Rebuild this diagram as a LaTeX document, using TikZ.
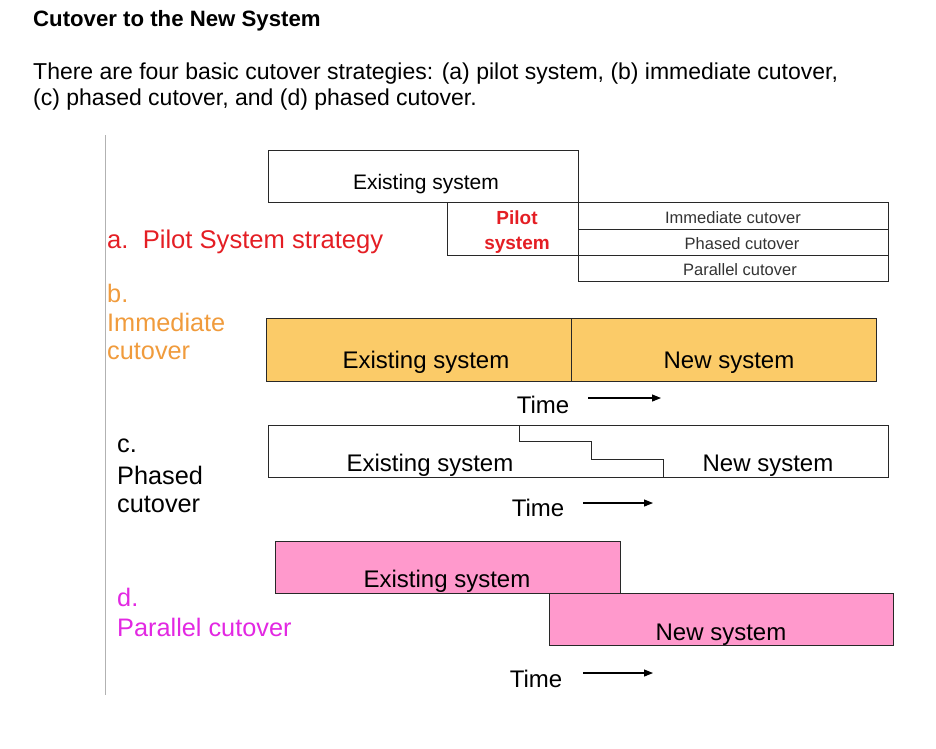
\documentclass[tikz,border=0pt]{standalone}
\usepackage{fontspec}
\setmainfont{Liberation Sans}
\usetikzlibrary{arrows.meta}
\definecolor{redtxt}{RGB}{228,30,36}
\definecolor{orangetxt}{RGB}{240,155,60}
\definecolor{magtxt}{RGB}{226,40,226}
\definecolor{orangefill}{RGB}{251,203,104}
\definecolor{pinkfill}{RGB}{255,153,204}
\definecolor{edge}{RGB}{40,40,40}
\begin{document}
\begin{tikzpicture}[x=1pt,y=-1pt,
  box/.style={draw=edge, line width=0.9pt, inner sep=0pt, anchor=north west},
  txt/.style={inner sep=0pt, anchor=base, font=\fontsize{24}{28}\selectfont},
  lbl/.style={inner sep=0pt, anchor=base west, font=\fontsize{25.3}{30}\selectfont},
  small/.style={inner sep=0pt, anchor=base, text=black!80, font=\fontsize{16.5}{20}\selectfont},
  timearrow/.style={line width=1.1pt, -{Triangle[length=9pt,width=7pt]}}]
\useasboundingbox (0,0) rectangle (936,748);
% header
\node[inner sep=0pt, anchor=base west, font=\fontsize{22.2}{26}\selectfont\bfseries] (title) at (33,26) {Cutover to the New System};
\node[inner sep=0pt, anchor=base west, font=\fontsize{23}{26}\selectfont] (para1) at (33,79) {There are four basic cutover strategies: (a) pilot system, (b) immediate cutover,};
\node[inner sep=0pt, anchor=base west, font=\fontsize{23}{26}\selectfont] (para2) at (33,105) {(c) phased cutover, and (d) phased cutover.};
% left rule
\coordinate (ruletop) at (105,135);
\coordinate (rulebot) at (105,695);
\draw[black!30, line width=1pt] (ruletop) -- (rulebot);
% ---- a
\node[box, minimum width=310pt, minimum height=52pt] (aexist) at (268,150) {};
\node[txt, font=\fontsize{21}{25}\selectfont] (aexistt) at (426,189) {Existing system};
\node[box, minimum width=131pt, minimum height=53pt] (apilot) at (447,202) {};
\node[inner sep=0pt, anchor=base, text=redtxt, font=\fontsize{19}{22}\selectfont\bfseries] (apilott1) at (517,224) {Pilot};
\node[inner sep=0pt, anchor=base, text=redtxt, font=\fontsize{19}{22}\selectfont\bfseries] (apilott2) at (517,249) {system};
\node[lbl, text=redtxt, font=\fontsize{25.6}{30}\selectfont] (alabel) at (107,248) {a.\ \ Pilot System strategy};
\node[box, minimum width=310pt, minimum height=26.5pt] (t1) at (578,202) {};
\node[box, minimum width=310pt, minimum height=26pt] (t2) at (578,228.5) {};
\node[box, minimum width=310pt, minimum height=26.5pt] (t3) at (578,254.5) {};
\node[small] (t1t) at (733,223.5) {Immediate cutover};
\node[small] (t2t) at (742,249.5) {Phased cutover};
\node[small] (t3t) at (740,275.5) {Parallel cutover};
% ---- b
\node[lbl, text=orangetxt] (blab1) at (107,302) {b.};
\node[lbl, text=orangetxt] (blab2) at (107,331) {Immediate};
\node[lbl, text=orangetxt] (blab3) at (107,359) {cutover};
\node[box, fill=orangefill, minimum width=305pt, minimum height=63pt] (bexist) at (266,318) {};
\node[box, fill=orangefill, minimum width=305pt, minimum height=63pt] (bnew) at (571,318) {};
\node[txt] (bexistt) at (426,368) {Existing system};
\node[txt] (bnewt) at (729,368) {New system};
\node[txt] (btime) at (543,413) {Time};
\coordinate (bta) at (588,398);
\coordinate (btb) at (661,398);
\draw[timearrow] (bta) -- (btb);
% ---- c
\node[lbl] (clab1) at (117,452) {c.};
\node[lbl] (clab2) at (117,484) {Phased};
\node[lbl] (clab3) at (117,512) {cutover};
\node[box, minimum width=620pt, minimum height=52pt] (cbox) at (268,425) {};
\coordinate (s0) at (519,425);
\coordinate (s1) at (519,441);
\coordinate (s2) at (591,441);
\coordinate (s3) at (591,459);
\coordinate (s4) at (663,459);
\coordinate (s5) at (663,477);
\draw[edge, line width=0.9pt] (s0) -- (s1) -- (s2) -- (s3) -- (s4) -- (s5);
\node[txt] (cexistt) at (430,471) {Existing system};
\node[txt] (cnewt) at (768,471) {New system};
\node[txt] (ctime) at (538,516) {Time};
\coordinate (cta) at (583,503);
\coordinate (ctb) at (653,503);
\draw[timearrow] (cta) -- (ctb);
% ---- d
\node[lbl, text=magtxt] (dlab1) at (117,606) {d.};
\node[lbl, text=magtxt] (dlab2) at (117,636) {Parallel cutover};
\node[box, fill=pinkfill, minimum width=345pt, minimum height=52pt] (dexist) at (275,541) {};
\node[box, fill=pinkfill, minimum width=344pt, minimum height=52pt] (dnew) at (549,593) {};
\node[txt] (dexistt) at (447,587) {Existing system};
\node[txt] (dnewt) at (721,640) {New system};
\node[txt] (dtime) at (536,687) {Time};
\coordinate (dta) at (583,673);
\coordinate (dtb) at (653,673);
\draw[timearrow] (dta) -- (dtb);
\end{tikzpicture}
\end{document}
